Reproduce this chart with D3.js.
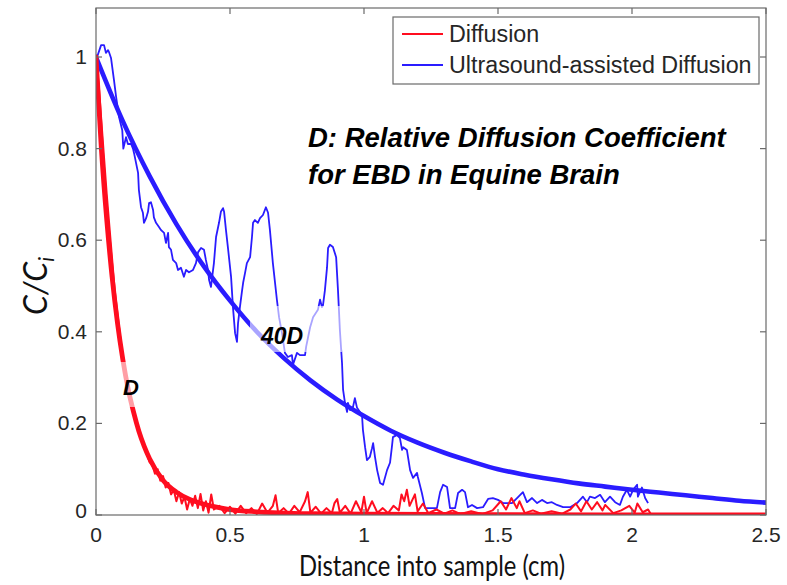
<!DOCTYPE html>
<html>
<head>
<meta charset="utf-8">
<script src="https://cdn.jsdelivr.net/npm/d3@7"></script>
<style>
  html, body { margin: 0; padding: 0; background: #fff; }
  svg { display: block; }
  .tick-label { font-family: "Liberation Sans", Arial, sans-serif; font-size: 21px; fill: #262626; }
  .legend-text { font-family: "Liberation Sans", Arial, sans-serif; font-size: 23.3px; fill: #262626; }
  .note { font-family: "Liberation Sans", Arial, sans-serif; font-weight: bold; font-style: italic; fill: #000; }
  .axis-title { font-family: Lato, "Open Sans", sans-serif; fill: #111; }
</style>
</head>
<body>
<script>
"use strict";
(function () {
  // ---- data ----
  const xTicks = [0, 0.5, 1, 1.5, 2, 2.5];
  const xTickLabels = ["0", "0.5", "1", "1.5", "2", "2.5"];
  const yTicks = [0, 0.2, 0.4, 0.6, 0.8, 1];
  const yTickLabels = ["0", "0.2", "0.4", "0.6", "0.8", "1"];

  const seriesNames = ["Diffusion", "Ultrasound-assisted Diffusion"];

  // fitted curve, diffusion coefficient D
  const redFitX = [0, 0.02, 0.04, 0.06, 0.08, 0.1, 0.12, 0.14, 0.16, 0.18, 0.2, 0.25, 0.3, 0.35, 0.4, 0.45, 0.5, 0.6, 0.8, 1.0, 1.5, 2.0, 2.5];
  const redFitY = [1.0, 0.80, 0.645, 0.52, 0.42, 0.34, 0.275, 0.225, 0.183, 0.15, 0.123, 0.076, 0.05, 0.034, 0.024, 0.017, 0.012, 0.007, 0.003, 0.002, 0.001, 0.0, 0.0];

  // fitted curve, 40D
  const blueFitX = [0, 0.1, 0.2, 0.3, 0.4, 0.5, 0.6, 0.7, 0.8, 0.9, 1.0, 1.1, 1.2, 1.3, 1.4, 1.5, 1.6, 1.7, 1.8, 1.9, 2.0, 2.1, 2.2, 2.3, 2.4, 2.5];
  const blueFitY = [1.0, 0.86, 0.74, 0.635, 0.545, 0.468, 0.40, 0.343, 0.294, 0.252, 0.216, 0.184, 0.158, 0.136, 0.117, 0.100, 0.088, 0.078, 0.069, 0.062, 0.055, 0.049, 0.043, 0.037, 0.031, 0.027];

  // measured profile, passive diffusion
  const redData = [
    [0.00,1.00],[0.01,0.94],[0.02,0.86],[0.03,0.78],[0.04,0.70],[0.05,0.63],[0.06,0.56],[0.07,0.49],[0.08,0.44],[0.09,0.39],
    [0.10,0.345],[0.11,0.31],[0.12,0.28],[0.13,0.25],[0.14,0.225],[0.15,0.205],[0.16,0.18],[0.17,0.17],[0.18,0.145],[0.19,0.135],
    [0.20,0.115],[0.21,0.11],[0.22,0.09],[0.23,0.10],[0.24,0.075],[0.25,0.085],[0.26,0.06],[0.27,0.07],[0.28,0.045],[0.29,0.055],
    [0.30,0.03],[0.31,0.05],[0.32,0.025],[0.33,0.04],[0.34,0.012],[0.35,0.035],[0.36,0.02],[0.37,0.042],[0.38,0.015],[0.39,0.046],
    [0.40,0.01],[0.41,0.03],[0.42,0.005],[0.43,0.045],[0.44,0.012],[0.46,0.02],[0.48,0.004],[0.50,0.018],[0.52,0.003],[0.54,0.02],
    [0.56,0.004],[0.58,0.015],[0.60,0.002],[0.62,0.025],[0.64,0.005],[0.66,0.02],[0.67,0.043],[0.68,0.004],[0.70,0.015],[0.72,0.003],
    [0.74,0.02],[0.76,0.006],[0.78,0.03],[0.79,0.05],[0.80,0.005],[0.82,0.018],[0.84,0.003],[0.86,0.015],[0.88,0.004],[0.89,0.026],
    [0.90,0.035],[0.91,0.005],[0.93,0.02],[0.95,0.003],[0.97,0.03],[0.99,0.006],[1.00,0.04],[1.01,0.004],[1.03,0.03],[1.05,0.005],
    [1.07,0.015],[1.09,0.004],[1.11,0.02],[1.13,0.01],[1.14,0.045],[1.15,0.03],[1.16,0.055],[1.17,0.02],[1.19,0.045],[1.20,0.008],
    [1.22,0.025],[1.24,0.004],[1.27,0.012],[1.30,0.003],[1.33,0.01],[1.36,0.002],[1.40,0.008],[1.44,0.002],[1.48,0.01],[1.51,0.03],
    [1.53,0.012],[1.55,0.037],[1.57,0.015],[1.58,0.03],[1.60,0.004],[1.63,0.01],[1.66,0.003],[1.70,0.008],[1.74,0.003],[1.77,0.012],
    [1.79,0.025],[1.81,0.008],[1.83,0.03],[1.85,0.012],[1.87,0.028],[1.89,0.01],[1.90,0.022],[1.93,0.004],[1.96,0.01],[1.99,0.02],
    [2.01,0.005],[2.02,0.025],[2.04,0.006],[2.06,0.012],[2.07,0.002]
  ];

  // measured profile, ultrasound-assisted
  const blueData = [
    [0,0.993],[0.019,1.026],[0.030,1.026],[0.037,1.009],[0.045,1.015],[0.049,1.010],[0.056,0.998],[0.067,0.950],[0.075,0.913],[0.086,0.869],
    [0.098,0.840],[0.102,0.800],[0.112,0.825],[0.119,0.810],[0.131,0.810],[0.138,0.800],[0.142,0.790],[0.149,0.770],[0.157,0.747],[0.160,0.710],
    [0.168,0.672],[0.175,0.660],[0.179,0.638],[0.187,0.648],[0.194,0.662],[0.198,0.681],[0.205,0.683],[0.213,0.666],[0.216,0.650],[0.224,0.638],
    [0.235,0.629],[0.243,0.622],[0.254,0.616],[0.261,0.594],[0.269,0.616],[0.272,0.585],[0.280,0.579],[0.287,0.557],[0.299,0.550],[0.306,0.535],
    [0.317,0.540],[0.328,0.520],[0.336,0.535],[0.347,0.530],[0.362,0.535],[0.373,0.550],[0.381,0.574],[0.392,0.583],[0.403,0.579],[0.410,0.557],
    [0.418,0.535],[0.422,0.513],[0.429,0.498],[0.440,0.550],[0.448,0.607],[0.459,0.638],[0.466,0.662],[0.474,0.670],[0.478,0.662],[0.485,0.622],
    [0.493,0.580],[0.504,0.520],[0.511,0.454],[0.519,0.397],[0.526,0.378],[0.530,0.419],[0.537,0.454],[0.545,0.490],[0.549,0.507],[0.556,0.528],
    [0.563,0.550],[0.575,0.563],[0.582,0.607],[0.586,0.638],[0.593,0.644],[0.604,0.638],[0.612,0.648],[0.623,0.655],[0.634,0.672],[0.642,0.660],
    [0.649,0.622],[0.660,0.550],[0.675,0.470],[0.683,0.432],[0.694,0.397],[0.705,0.354],[0.716,0.345],[0.731,0.349],[0.735,0.328],[0.750,0.354],
    [0.761,0.349],[0.780,0.349],[0.784,0.367],[0.799,0.410],[0.810,0.432],[0.828,0.448],[0.836,0.470],[0.843,0.454],[0.847,0.458],[0.854,0.490],
    [0.862,0.540],[0.866,0.583],[0.873,0.590],[0.884,0.585],[0.896,0.563],[0.903,0.490],[0.910,0.404],[0.918,0.332],[0.922,0.273],[0.929,0.245],
    [0.937,0.225],[0.940,0.245],[0.948,0.229],[0.959,0.236],[0.966,0.255],[0.974,0.234],[0.985,0.225],[0.993,0.214],[0.996,0.186],[1.004,0.148],
    [1.011,0.120],[1.022,0.127],[1.030,0.146],[1.034,0.157],[1.041,0.127],[1.049,0.098],[1.060,0.070],[1.071,0.066],[1.086,0.098],[1.097,0.114],
    [1.104,0.148],[1.108,0.170],[1.123,0.175],[1.134,0.168],[1.142,0.142],[1.146,0.148],[1.160,0.142],[1.172,0.098],[1.183,0.081],[1.198,0.092],
    [1.201,0.083],[1.216,0.048],[1.228,0.015],[1.246,0.015],[1.272,0.015],[1.284,0.050],[1.295,0.066],[1.310,0.061],[1.321,0.015],[1.340,0.015],
    [1.351,0.048],[1.366,0.055],[1.377,0.050],[1.388,0.017],[1.403,0.022],[1.422,0.015],[1.444,0.017],[1.463,0.035],[1.481,0.037],[1.500,0.033],
    [1.519,0.026],[1.537,0.026],[1.552,0.026],[1.571,0.037],[1.593,0.050],[1.608,0.028],[1.627,0.037],[1.646,0.026],[1.664,0.033],[1.683,0.026],
    [1.701,0.028],[1.720,0.022],[1.743,0.017],[1.769,0.017],[1.795,0.026],[1.817,0.040],[1.832,0.028],[1.843,0.040],[1.862,0.037],[1.881,0.044],
    [1.899,0.028],[1.918,0.040],[1.937,0.028],[1.955,0.022],[1.966,0.040],[1.981,0.055],[1.993,0.040],[2.004,0.055],[2.019,0.066],[2.022,0.040],
    [2.037,0.060],[2.049,0.037],[2.060,0.026]
  ];

  const RED = "#ff0d1f";
  const BLUE = "#2a1cff";
  const FRAME = "#6a6a6a";

  const W = 787, H = 585;
  const M = { left: 96, right: 766, top: 8, bottom: 515 };

  const x = d3.scaleLinear().domain([0, 2.5]).range([M.left, M.right]);
  const y = d3.scaleLinear().domain([0, 1.107]).range([M.bottom, M.top]);

  const svg = d3.select("body").append("svg").attr("width", W).attr("height", H);

  const clip = svg.append("defs").append("clipPath").attr("id", "plot-clip");
  clip.append("rect").attr("x", M.left).attr("y", M.top)
    .attr("width", M.right - M.left).attr("height", M.bottom - M.top);

  const plot = svg.append("g").attr("clip-path", "url(#plot-clip)");

  const pairLine = d3.line().x((d) => x(d[0])).y((d) => y(d[1]));
  const fitLine = (xs, ys) => d3.line().curve(d3.curveMonotoneX)
    .x((d, i) => x(xs[i])).y((d, i) => y(ys[i]))(ys);

  // blue first, red on top
  plot.append("path").attr("d", pairLine(blueData))
    .attr("fill", "none").attr("stroke", BLUE).attr("stroke-width", 1.8).attr("stroke-linejoin", "round");
  plot.append("path").attr("d", fitLine(blueFitX, blueFitY))
    .attr("fill", "none").attr("stroke", BLUE).attr("stroke-width", 4.6).attr("stroke-linecap", "round");
  plot.append("path").attr("d", pairLine(redData))
    .attr("fill", "none").attr("stroke", RED).attr("stroke-width", 2).attr("stroke-linejoin", "round");
  plot.append("path").attr("d", fitLine(redFitX, redFitY))
    .attr("fill", "none").attr("stroke", RED).attr("stroke-width", 4.8).attr("stroke-linecap", "round");

  // semi-transparent label boxes over the curves
  plot.append("rect").attr("x", 110).attr("y", 362).attr("width", 38).attr("height", 45)
    .attr("fill", "#fff").attr("opacity", 0.6);
  plot.append("rect").attr("x", 250).attr("y", 306).attr("width", 92).attr("height", 46)
    .attr("fill", "#fff").attr("opacity", 0.6);
  svg.append("text").attr("class", "note").attr("x", 123).attr("y", 395)
    .style("font-size", "22px").text("D");
  svg.append("text").attr("class", "note").attr("x", 261).attr("y", 344)
    .style("font-size", "23px").text("40D");

  // frame + mirrored ticks
  const TL = 6;
  svg.append("rect").attr("x", M.left).attr("y", M.top)
    .attr("width", M.right - M.left).attr("height", M.bottom - M.top)
    .attr("fill", "none").attr("stroke", FRAME).attr("stroke-width", 1.2);
  const tk = svg.append("g").attr("stroke", FRAME).attr("stroke-width", 1.2);
  xTicks.forEach((v) => {
    tk.append("line").attr("x1", x(v)).attr("x2", x(v)).attr("y1", M.bottom).attr("y2", M.bottom - TL);
    tk.append("line").attr("x1", x(v)).attr("x2", x(v)).attr("y1", M.top).attr("y2", M.top + TL);
  });
  yTicks.forEach((v) => {
    tk.append("line").attr("y1", y(v)).attr("y2", y(v)).attr("x1", M.left).attr("x2", M.left + TL);
    tk.append("line").attr("y1", y(v)).attr("y2", y(v)).attr("x1", M.right).attr("x2", M.right - TL);
  });

  svg.append("g").selectAll("text").data(xTicks).join("text")
    .attr("class", "tick-label").attr("text-anchor", "middle")
    .attr("x", (d) => x(d)).attr("y", M.bottom + 27)
    .text((d, i) => xTickLabels[i]);
  svg.append("g").selectAll("text").data(yTicks).join("text")
    .attr("class", "tick-label").attr("text-anchor", "end")
    .attr("x", M.left - 9).attr("y", (d) => y(d) + 7 - (d === 0 ? 4 : 0))
    .text((d, i) => yTickLabels[i]);

  // axis titles
  svg.append("text").attr("class", "axis-title").attr("text-anchor", "middle")
    .attr("x", 432).attr("y", 576).style("font-size", "29px")
    .attr("textLength", 266).attr("lengthAdjust", "spacingAndGlyphs")
    .text("Distance into sample (cm)");
  const yl = svg.append("text").attr("class", "axis-title").attr("text-anchor", "middle")
    .attr("transform", "translate(47,286) rotate(-90)")
    .style("font-size", "32px").style("font-style", "italic");
  yl.append("tspan").text("C/C");
  yl.append("tspan").attr("dy", 7).style("font-size", "21px").text("i");

  // annotation
  const note = svg.append("g");
  note.append("text").attr("class", "note").attr("x", 308).attr("y", 147)
    .style("font-size", "27.5px")
    .text("D: Relative Diffusion Coefficient");
  note.append("text").attr("class", "note").attr("x", 308).attr("y", 184)
    .style("font-size", "27.5px")
    .text("for EBD in Equine Brain");

  // legend
  const lg = svg.append("g");
  lg.append("rect").attr("x", 393).attr("y", 17).attr("width", 366).attr("height", 67)
    .attr("fill", "#fff").attr("stroke", FRAME).attr("stroke-width", 1.2);
  [RED, BLUE].forEach((c, i) => {
    const yy = 34 + i * 31;
    lg.append("line").attr("x1", 402).attr("x2", 443).attr("y1", yy).attr("y2", yy)
      .attr("stroke", c).attr("stroke-width", 1.8);
    lg.append("text").attr("class", "legend-text").attr("x", 449).attr("y", yy + 8)
      .text(seriesNames[i]);
  });
})();
</script>
</body>
</html>
